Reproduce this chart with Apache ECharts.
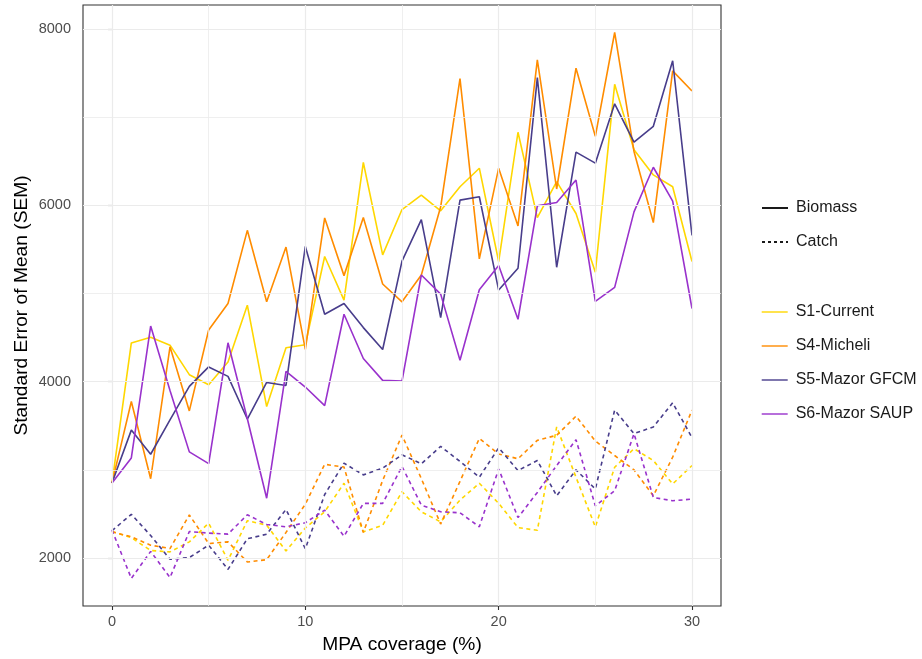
<!DOCTYPE html>
<html><head><meta charset="utf-8">
<script src="https://cdn.jsdelivr.net/npm/echarts@6/dist/echarts.min.js"></script>
<style>html,body{margin:0;padding:0;background:#fff}#c{width:922px;height:659px}</style>
</head><body><div id="c"></div>
<script>
const coverage = [0,1,2,3,4,5,6,7,8,9,10,11,12,13,14,15,16,17,18,19,20,21,22,23,24,25,26,27,28,29,30];
const scenarios = ['S1-Current','S4-Micheli','S5-Mazor GFCM','S6-Mazor SAUP'];
const metrics = ['Biomass','Catch'];

const biomassS1 = [2850,4440,4505,4415,4080,3966,4225,4869,3718,4385,4420,5421,4926,6488,5440,5954,6118,5939,6213,6423,5364,6831,5863,6270,5909,5242,7375,6632,6347,6213,5364];
const biomassS4 = [2850,3775,2899,4396,3669,4587,4888,5718,4907,5528,4366,5859,5204,5863,5109,4907,5211,5985,7440,5394,6423,5768,7653,6187,7558,6785,7963,6613,5806,7528,7299];
const biomassS5 = [2850,3451,3177,3566,3947,4168,4061,3577,3992,3958,5535,4766,4888,4614,4366,5368,5840,4728,6061,6099,5040,5288,7451,5299,6606,6480,7154,6720,6899,7642,5661];
const biomassS6 = [2850,3135,4632,3900,3204,3071,4442,3580,2678,4118,3940,3729,4766,4263,4015,4008,5211,4994,4243,5044,5318,4709,5996,6034,6289,4911,5071,5928,6434,6049,4831];

const catchS1 = [2300,2230,2085,2069,2183,2395,1973,2423,2373,2080,2340,2524,2848,2297,2371,2752,2524,2410,2657,2848,2620,2344,2314,3487,2916,2352,3030,3240,3106,2840,3049];
const catchS4 = [2297,2240,2145,2107,2488,2164,2183,1954,1981,2290,2610,3063,3032,2290,2880,3394,2900,2385,2870,3356,3180,3126,3335,3392,3609,3327,3163,3000,2706,3144,3678];
const catchS5 = [2310,2495,2255,1985,2005,2145,1870,2218,2270,2550,2105,2720,3076,2943,3019,3171,3069,3266,3095,2916,3250,2992,3106,2706,3000,2783,3678,3411,3487,3761,3366];
const catchS6 = [2316,1768,2075,1778,2300,2282,2271,2490,2380,2354,2400,2543,2246,2619,2619,3038,2600,2524,2513,2354,3010,2459,2744,3049,3343,2592,2763,3411,2687,2649,2668];

const yTicks = [2000,4000,6000,8000];
const yMinor = [3000,5000,7000];
const xTicks = [0,10,20,30];
const xMinor = [5,15,25];

const palette = ['#FFD700','#FF8C00','#483D8B','#9932CC'];
const biomass = [biomassS1,biomassS4,biomassS5,biomassS6];
const catches = [catchS1,catchS4,catchS5,catchS6];
const pair = arr => coverage.map((x,i)=>[x,arr[i]]);

const FONT = 'Liberation Sans, Arial, sans-serif';
const series = [];
series.push({
  type:'line', data:[], silent:true, z:0,
  markLine:{silent:true, animation:false, symbol:['none','none'], label:{show:false},
    emphasis:{disabled:true},
    lineStyle:{color:'#ebebeb', type:'solid', width:1.2},
    data:[].concat(
      yTicks.map(v=>({yAxis:v})),
      xTicks.map(v=>({xAxis:v})),
      yMinor.map(v=>({yAxis:v, lineStyle:{width:0.8}})),
      xMinor.map(v=>({xAxis:v, lineStyle:{width:0.8}})))
  }
});
series.push({name:metrics[0], type:'line', data:[], color:'#1a1a1a', symbol:'none', lineStyle:{width:1.8, type:'solid'}});
series.push({name:metrics[1], type:'line', data:[], color:'#1a1a1a', symbol:'none', lineStyle:{width:1.6, type:[3,3]}});
scenarios.forEach((s,k)=>{
  series.push({name:s+' catch', type:'line', data:pair(catches[k]), color:palette[k], symbol:'none', z:2,
    lineStyle:{width:1.6, type:[4,3.5]}, emphasis:{disabled:true}});
});
scenarios.forEach((s,k)=>{
  series.push({name:s, type:'line', data:pair(biomass[k]), color:palette[k], symbol:'none', z:3,
    lineStyle:{width:1.6, type:'solid'}, emphasis:{disabled:true}});
});

const legendBase = {orient:'vertical', left:756, itemWidth:26, itemHeight:14, itemGap:18, selectedMode:false,
  itemStyle:{opacity:0},
  textStyle:{fontSize:16, color:'#1a1a1a', fontFamily:FONT, padding:[0,0,0,3]}};

const chart = echarts.init(document.getElementById('c'), null, {renderer:'canvas'});
chart.setOption({
  animation:false,
  backgroundColor:'#ffffff',
  textStyle:{fontFamily:FONT},
  grid:{left:83, right:201, top:5, bottom:53, show:true, borderColor:'#333333', borderWidth:1.1, backgroundColor:'transparent'},
  legend:[
    Object.assign({}, legendBase, {top:195, data:metrics}),
    Object.assign({}, legendBase, {top:299, data:scenarios, lineStyle:{width:1.4}})
  ],
  xAxis:{type:'value', min:-1.5, max:31.5,
    name:'MPA coverage (%)', nameLocation:'middle', nameGap:29,
    nameTextStyle:{fontSize:19.2, color:'#000', fontFamily:FONT},
    axisLine:{show:false},
    axisTick:{show:true, customValues:xTicks, length:4, lineStyle:{color:'#333', width:1.1}},
    axisLabel:{customValues:xTicks, color:'#4d4d4d', fontSize:14.5, margin:8, fontFamily:FONT,
      formatter:v=>String(v)},
    splitLine:{show:false}},
  yAxis:{type:'value', min:1455, max:8275,
    name:'Standard Error of Mean (SEM)', nameLocation:'middle', nameGap:52, nameRotate:90,
    nameMoveOverlap:false,
    nameTextStyle:{fontSize:19.2, color:'#000', fontFamily:FONT},
    axisLine:{show:false},
    axisTick:{show:true, customValues:yTicks, length:4, lineStyle:{color:'#333', width:1.1}},
    axisLabel:{customValues:yTicks, color:'#4d4d4d', fontSize:14.5, margin:12, fontFamily:FONT,
      formatter:v=>String(v)},
    splitLine:{show:false}},
  series:series
});
</script></body></html>
